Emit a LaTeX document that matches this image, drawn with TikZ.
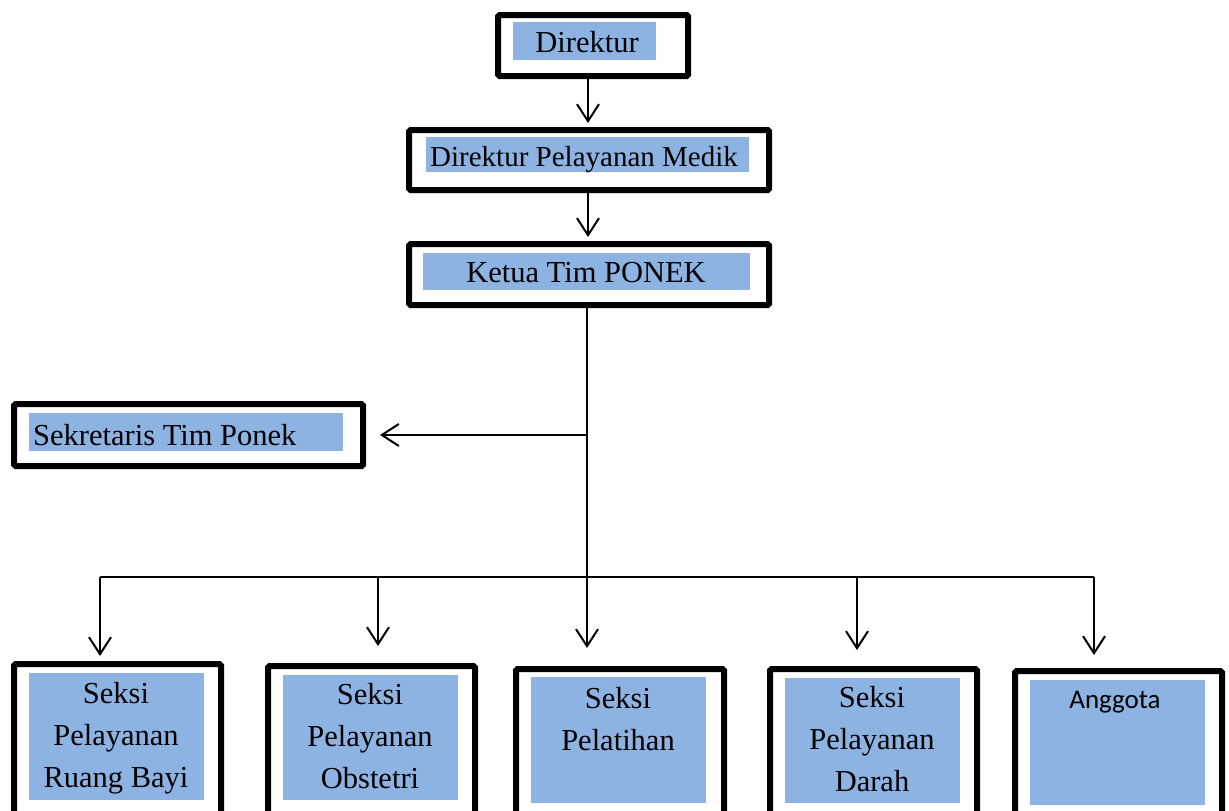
\documentclass[tikz,border=0pt]{standalone}
\usepackage{fontspec}
\setmainfont{Liberation Serif}
\newfontfamily\calibfont{Carlito}
\usetikzlibrary{arrows.meta}
\definecolor{boxblue}{RGB}{141,179,226}
\begin{document}
\begin{tikzpicture}[x=1pt,y=-1pt,
  outerbox/.style={draw=black, line width=6pt, rounded corners=1.5pt, inner sep=0pt, anchor=north west},
  bluebox/.style={fill=boxblue, inner sep=0pt, anchor=north west},
  lbl/.style={font=\fontsize{30.5}{42}\selectfont, align=center, inner sep=0pt, anchor=base},
  conn/.style={line width=2pt},
  arr/.style={conn, -{Straight Barb[length=17pt,width=22pt,line width=2pt]}}
]
\useasboundingbox (0,0) rectangle (1229,811);
\clip (0,0) rectangle (1229,811);
\fill[white] (0,0) rectangle (1229,811);

% top boxes
\node[outerbox, minimum width=190pt, minimum height=61pt] (dir) at (495,12) {};
\node[bluebox, minimum width=143pt, minimum height=38pt] (dirb) at (513,22) {};
\node[lbl] (dirt) at (587,52) {Direktur};

\node[outerbox, minimum width=360pt, minimum height=60pt] (dpm) at (406,127) {};
\node[bluebox, minimum width=323pt, minimum height=35pt] (dpmb) at (426,137) {};
\node[lbl, font=\fontsize{29}{40}\selectfont] (dpmt) at (584,166) {Direktur Pelayanan Medik};

\node[outerbox, minimum width=360pt, minimum height=61pt] (ket) at (406,241) {};
\node[bluebox, minimum width=327pt, minimum height=37pt] (ketb) at (423,253) {};
\node[lbl] (kett) at (586,282) {Ketua Tim PONEK};

\node[outerbox, minimum width=349pt, minimum height=62pt] (sek) at (11,401) {};
\node[bluebox, minimum width=314pt, minimum height=38pt] (sekb) at (29,413) {};
\node[lbl, anchor=base west] (sekt) at (33,445) {Sekretaris Tim Ponek};

% bottom boxes (cut off by the lower edge; anchor base = baseline of last line)
\node[outerbox, overlay, minimum width=207pt, minimum height=170pt] (b1) at (11,661) {};
\node[bluebox, minimum width=175pt, minimum height=127pt] (b1b) at (29,673) {};
\node[lbl] (b1t) at (116,787) {Seksi\\Pelayanan\\Ruang Bayi};

\node[outerbox, overlay, minimum width=207pt, minimum height=170pt] (b2) at (265,663) {};
\node[bluebox, minimum width=175pt, minimum height=125pt] (b2b) at (283,675) {};
\node[lbl] (b2t) at (370,788) {Seksi\\Pelayanan\\Obstetri};

\node[outerbox, overlay, minimum width=208pt, minimum height=170pt] (b3) at (513,666) {};
\node[bluebox, minimum width=175pt, minimum height=126pt] (b3b) at (531,677) {};
\node[lbl] (b3t) at (618,750) {Seksi\\Pelatihan};

\node[outerbox, overlay, minimum width=207pt, minimum height=170pt] (b4) at (767,666) {};
\node[bluebox, minimum width=175pt, minimum height=125pt] (b4b) at (785,678) {};
\node[lbl] (b4t) at (872,791) {Seksi\\Pelayanan\\Darah};

\node[outerbox, overlay, minimum width=207pt, minimum height=170pt] (b5) at (1012,668) {};
\node[bluebox, minimum width=175pt, minimum height=125pt] (b5b) at (1030,680) {};
\node[font=\calibfont\fontsize{27}{32}\selectfont, inner sep=0pt, anchor=base] (b5t) at (1115,708) {Anggota};

% connector coordinates
\coordinate (c1) at (588,76);
\coordinate (c2) at (588,123);
\coordinate (c3) at (588,190);
\coordinate (c4) at (588,237);
\coordinate (c5) at (587,305);
\coordinate (sj) at (587,435);
\coordinate (sa) at (380,435);
\coordinate (bus) at (587,577);
\coordinate (d1s) at (100,577);
\coordinate (d1) at (100,656);
\coordinate (d2s) at (378,577);
\coordinate (d2) at (378,646);
\coordinate (d3) at (587,648);
\coordinate (d4s) at (857,577);
\coordinate (d4) at (857,650);
\coordinate (d5s) at (1094,577);
\coordinate (d5) at (1094,655);

\draw[arr] (c1) -- (c2);
\draw[arr] (c3) -- (c4);
\draw[conn] (c5) -- (bus);
\draw[arr] (sj) -- (sa);
\draw[conn] (d1s) -- (d5s);
\draw[arr] (d1s) -- (d1);
\draw[arr] (d2s) -- (d2);
\draw[arr] (bus) -- (d3);
\draw[arr] (d4s) -- (d4);
\draw[arr] (d5s) -- (d5);
\end{tikzpicture}
\end{document}
